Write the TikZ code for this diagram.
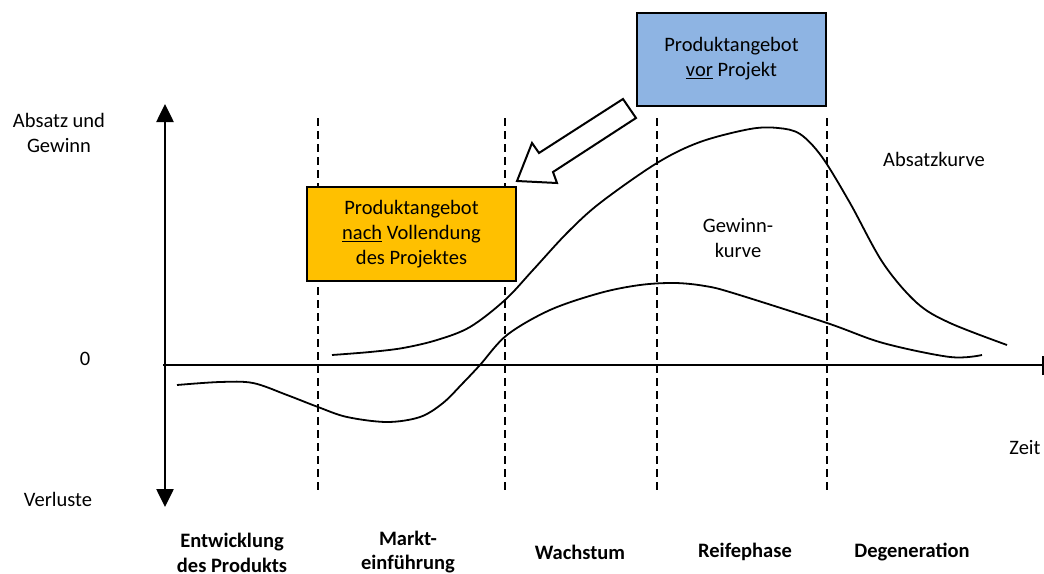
\documentclass[tikz,border=0pt]{standalone}
\usepackage{fontspec}
\setmainfont{Carlito}
\usetikzlibrary{arrows.meta}
\definecolor{boxblue}{HTML}{8EB4E3}
\definecolor{boxorange}{HTML}{FFC000}
\begin{document}
\begin{tikzpicture}[x=1pt,y=-1pt,
  lbl/.style={font=\fontsize{20.5}{24.5}\selectfont,align=center,inner sep=0pt},
  phase/.style={font=\fontsize{20.5}{24.5}\selectfont\bfseries,align=center,inner sep=0pt},
  infobox/.style={draw=black,line width=2pt,minimum width=#1,align=center,
     font=\fontsize{20.5}{25}\selectfont,inner sep=0pt},
  divider/.style={line width=2pt,dash pattern=on 8pt off 5pt},
  curve/.style={line width=1.8pt,smooth,tension=0.55},
  axis/.style={line width=2.6pt}]
\useasboundingbox (0,0) rectangle (1044,573);

% axes
\coordinate (ytop) at (165,104);
\coordinate (ybot) at (165,507);
\coordinate (xl) at (163,365);
\coordinate (xr) at (1043,365);
\draw[axis,{Triangle[length=18pt,width=17pt]}-{Triangle[length=18pt,width=17pt]}] (ytop) -- (ybot);
\draw[axis] (xl) -- (xr);
\draw[line width=1.5pt] ([yshift=-10pt]xr) -- ([yshift=9pt]xr);

% dividers
\foreach \x/\n in {318/a,505/b,657/c,827/d}{
  \coordinate (dt\n) at (\x,118);
  \coordinate (db\n) at (\x,491);
  \draw[divider] (dt\n) -- (db\n);
}

% curves
\draw[curve] plot coordinates {(332,355) (370,352) (403,348) (437,340) (470,327) (505,300) (533,270) (567,233) (600,203) (657,163) (700,142) (750,129) (778,128) (800,134) (822,157) (850,203) (883,263) (917,303) (950,323) (1007,345)};
\draw[curve] plot coordinates {(177,385) (220,382) (253,383) (287,395) (318,407) (347,417) (387,422) (420,417) (443,403) (463,383) (480,365) (507,335) (550,310) (600,293) (640,285) (675,283) (705,286) (733,293) (827,323) (883,343) (950,357) (982,355)};

% boxes
\node[infobox=189pt,minimum height=93pt,fill=boxblue] (vor) at (731.5,59)
  {Produktangebot\\\underline{vor} Projekt};
\node[infobox=209pt,minimum height=94pt,fill=boxorange] (nach) at (411.5,234)
  {Produktangebot\\\underline{nach} Vollendung\\des Projektes};

% hollow arrow
\coordinate (tip) at (517,181);
\draw[line width=2pt,fill=white,line join=miter] (tip) -- (532,143) -- (539,153) -- (623,99) -- (636,118) -- (553,172) -- (557,183) -- cycle;

% labels
\node[lbl] (yl) at (59,133) {Absatz und\\Gewinn};
\node[lbl] (zero) at (85,359) {0};
\node[lbl] (verl) at (58,499) {Verluste};
\node[lbl] (zeit) at (1025,448) {Zeit};
\node[lbl] (absk) at (934,159) {Absatzkurve};
\node[lbl] (gewk) at (738,238) {Gewinn-\\kurve};

\node[phase] (p1) at (232,553) {Entwicklung\\des Produkts};
\node[phase] (p2) at (408,552) {Markt-\\einführung};
\node[phase] (p3) at (580,552) {Wachstum};
\node[phase] (p4) at (745,552) {Reifephase};
\node[phase] (p5) at (912,552) {Degeneration};
\end{tikzpicture}
\end{document}
